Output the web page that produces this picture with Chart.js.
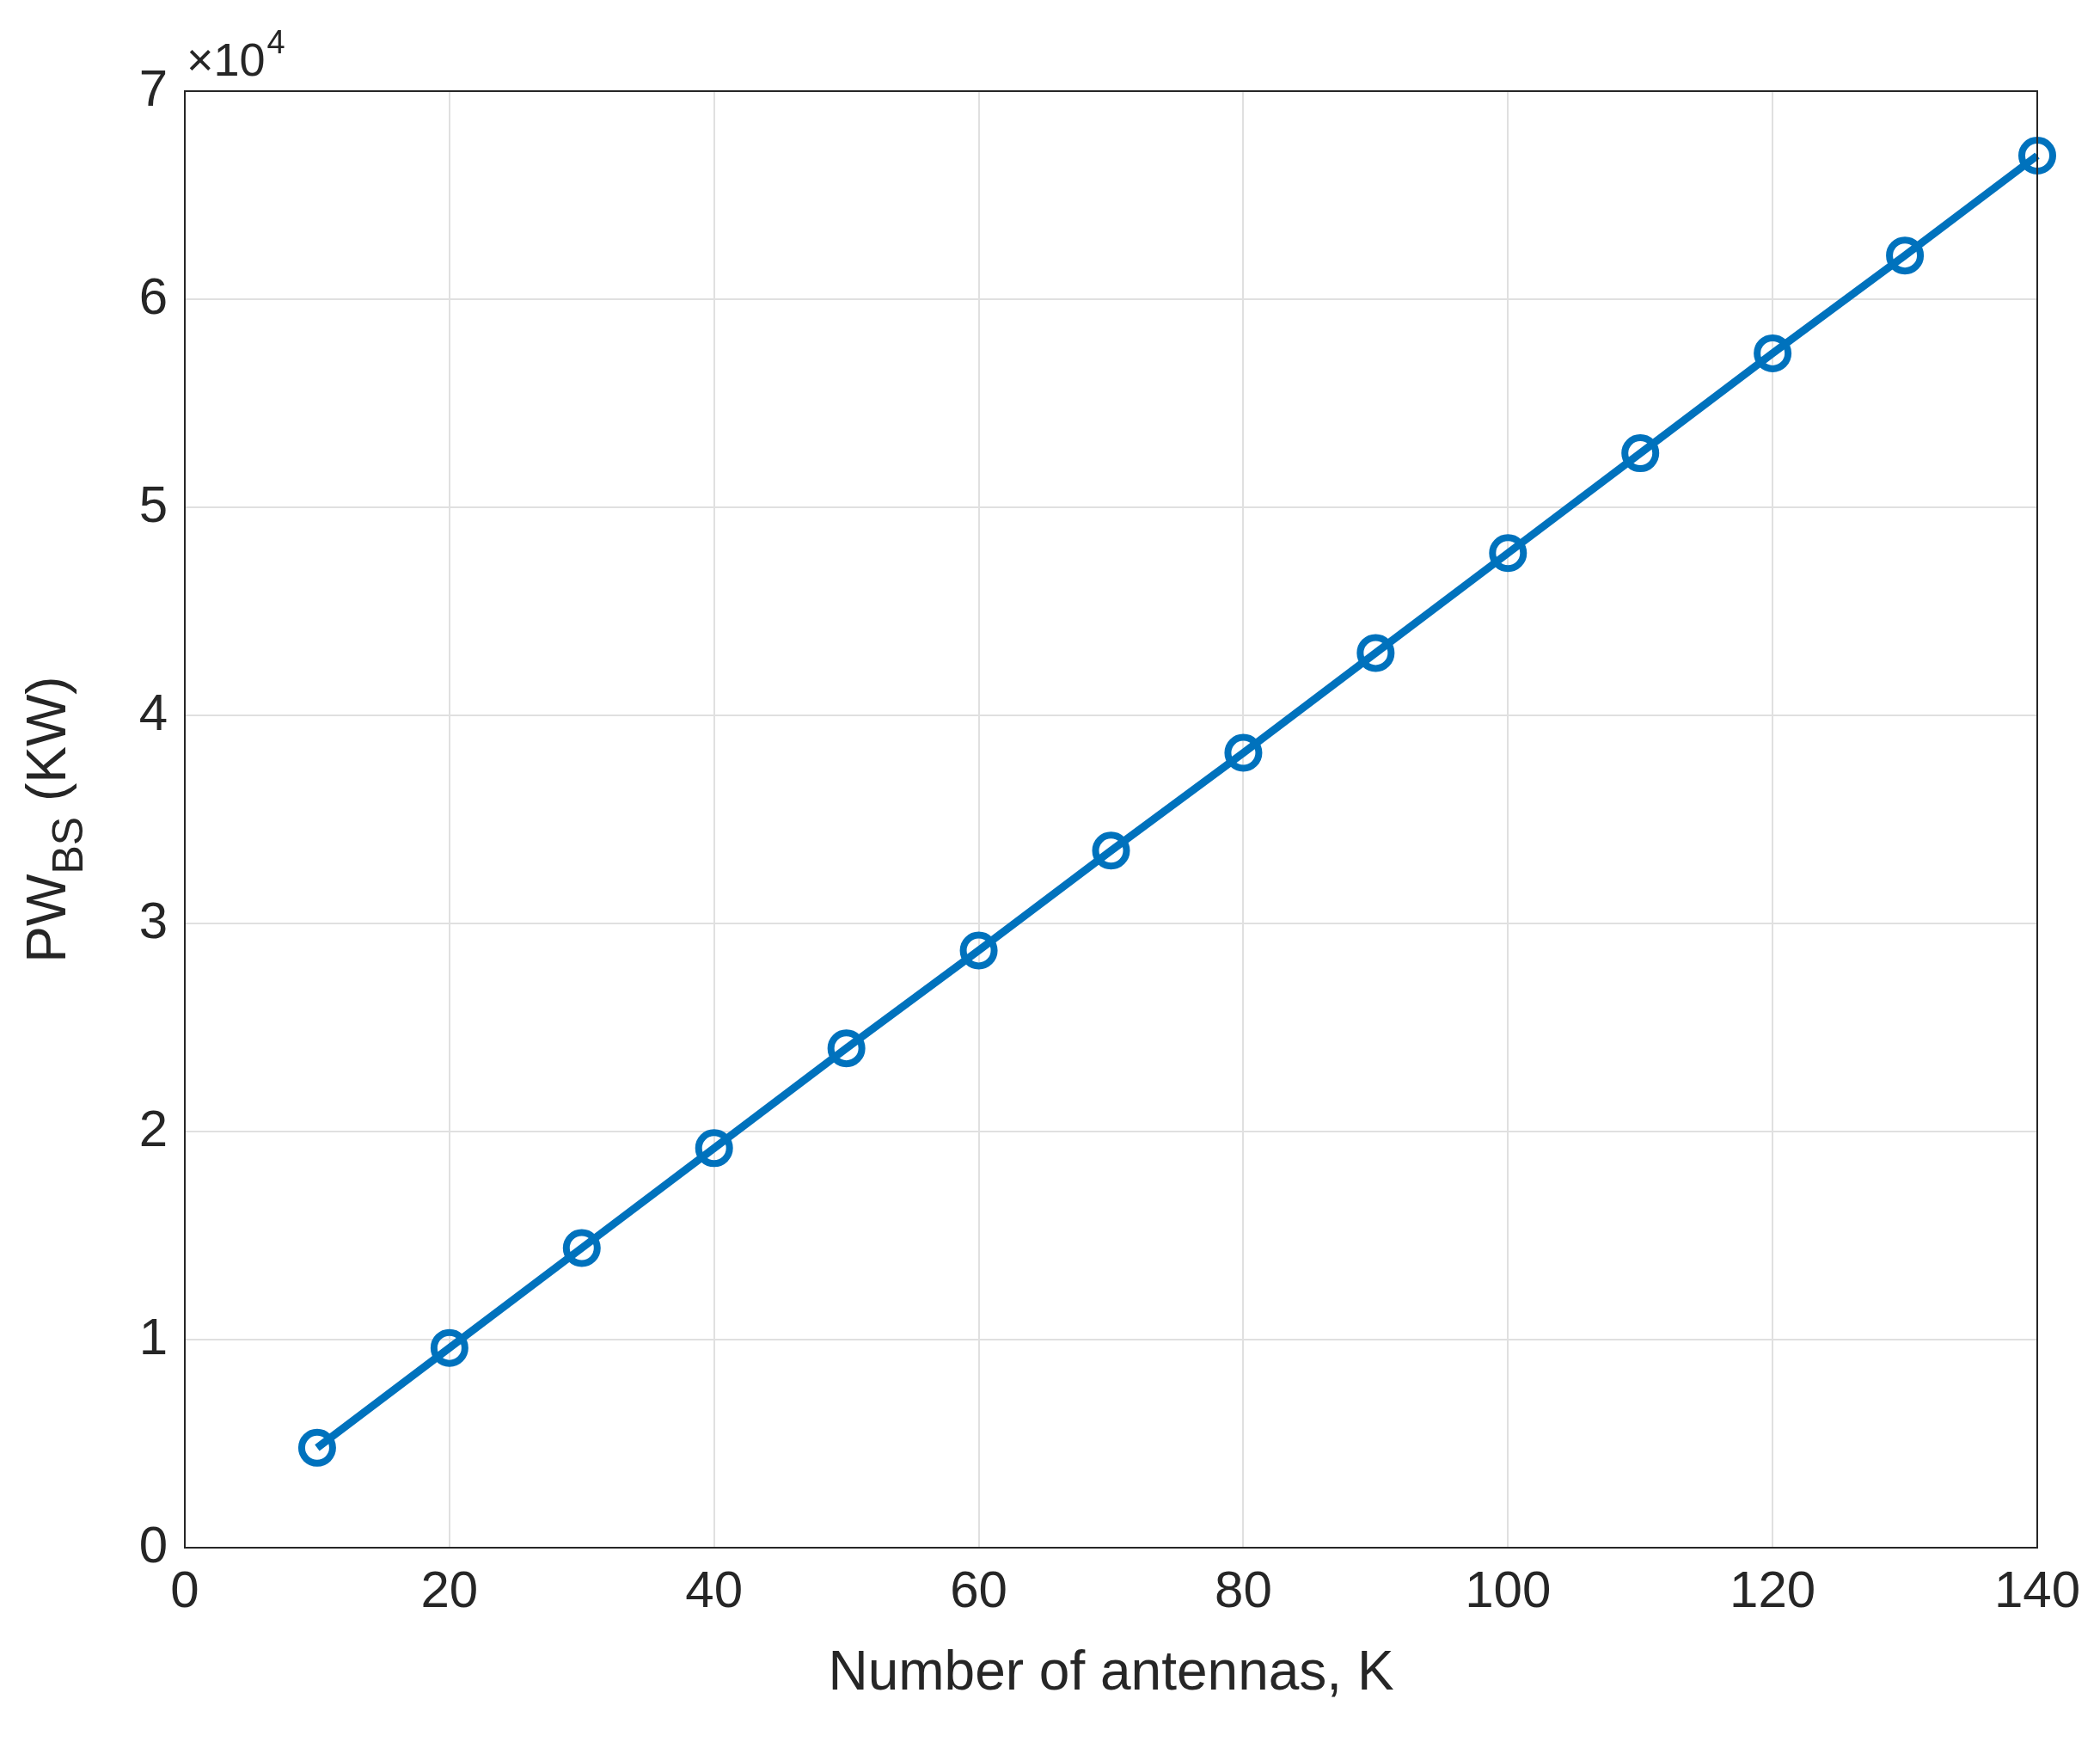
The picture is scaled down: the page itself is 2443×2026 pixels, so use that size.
<!DOCTYPE html>
<html>
<head>
<meta charset="utf-8">
<script src="https://cdn.jsdelivr.net/npm/chart.js@4"></script>
<style>
  html, body { margin: 0; padding: 0; background: #fff; }
</style>
</head>
<body>
<canvas id="myChart" width="2443" height="2026"></canvas>
<script>
// Данные графика
const antennas = [10, 20, 30, 40, 50, 60, 70, 80, 90, 100, 110, 120, 130, 140];
const powerBS = [4800, 9600, 14400, 19200, 24000, 28700, 33500, 38200, 43000, 47800, 52600, 57400, 62100, 66900];
const xTicks = [0, 20, 40, 60, 80, 100, 120, 140];
const yTicks = [0, 1, 2, 3, 4, 5, 6, 7];

const textColor = '#262626';
const font = 'Arial, "Liberation Sans", sans-serif';

// Подписи осей и множитель x10^4
const labelsPlugin = {
    id: 'labels',
    afterDraw(chart) {
        const ctx = chart.ctx;
        const a = chart.chartArea;
        ctx.save();
        ctx.fillStyle = textColor;

        // множитель
        ctx.font = '54px ' + font;
        ctx.textBaseline = 'alphabetic';
        ctx.textAlign = 'left';
        ctx.fillText('\u00d710', a.left + 2, a.top - 18);
        const w = ctx.measureText('\u00d710').width;
        ctx.font = '38px ' + font;
        ctx.fillText('4', a.left + 4 + w, a.top - 44);

        // подпись оси X
        ctx.font = '64px ' + font;
        ctx.textAlign = 'center';
        ctx.fillText('Number of antennas, K', (a.left + a.right) / 2, a.bottom + 165);

        // подпись оси Y с индексом
        ctx.translate(58, (a.top + a.bottom) / 2);
        ctx.rotate(-Math.PI / 2);
        const p1 = 'PW', p2 = 'BS', p3 = ' (KW)';
        ctx.font = '64px ' + font; const w1 = ctx.measureText(p1).width;
        ctx.font = '50px ' + font; const w2 = ctx.measureText(p2).width;
        ctx.font = '64px ' + font; const w3 = ctx.measureText(p3).width;
        let x = -(w1 + w2 + w3) / 2;
        ctx.textAlign = 'left';
        ctx.textBaseline = 'middle';
        ctx.fillText(p1, x, 0); x += w1;
        ctx.font = '50px ' + font; ctx.fillText(p2, x, 24); x += w2;
        ctx.font = '64px ' + font; ctx.fillText(p3, x, 0);

        // рамка
        ctx.restore();
        ctx.save();
        ctx.strokeStyle = '#262626';
        ctx.lineWidth = 2;
        ctx.strokeRect(a.left, a.top, a.right - a.left, a.bottom - a.top);
        ctx.restore();
    }
};

const ctx = document.getElementById('myChart').getContext('2d');
new Chart(ctx, {
    type: 'line',
    data: {
        datasets: [{
            data: antennas.map((k, i) => ({ x: k, y: powerBS[i] })),
            borderColor: '#0072BD',
            borderWidth: 9,
            pointStyle: 'circle',
            pointRadius: 18,
            pointBorderWidth: 8,
            pointBackgroundColor: 'rgba(0,0,0,0)',
            pointBorderColor: '#0072BD',
            tension: 0,
            clip: false
        }]
    },
    options: {
        responsive: false,
        animation: false,
        devicePixelRatio: 1,
        layout: { padding: { top: 106, right: 73, left: 0, bottom: 0 } },
        plugins: { legend: { display: false }, tooltip: { enabled: false } },
        scales: {
            x: {
                type: 'linear',
                min: 0, max: 140,
                afterBuildTicks: s => { s.ticks = xTicks.map(v => ({ value: v })); },
                afterFit: s => { s.height = 226; },
                grid: { color: '#e0e0e0', lineWidth: 2, drawTicks: false },
                border: { display: false },
                ticks: { color: textColor, font: { size: 60, family: font }, padding: 16 }
            },
            y: {
                min: 0, max: 70000,
                afterBuildTicks: s => { s.ticks = yTicks.map(v => ({ value: v * 10000 })); },
                afterFit: s => { s.width = 215; },
                grid: { color: '#e0e0e0', lineWidth: 2, drawTicks: false },
                border: { display: false },
                ticks: {
                    color: textColor, font: { size: 60, family: font }, padding: 20,
                    callback: v => String(v / 10000)
                }
            }
        }
    },
    plugins: [labelsPlugin]
});
</script>
</body>
</html>
